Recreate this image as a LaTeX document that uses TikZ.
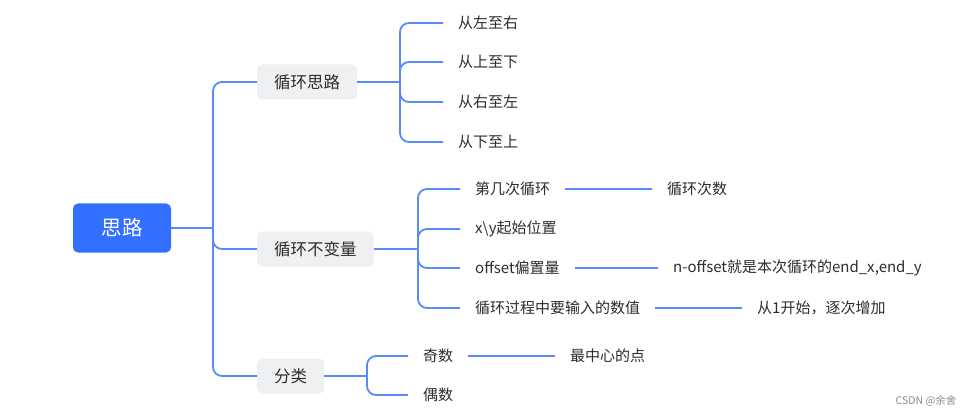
\documentclass[tikz,border=0pt]{standalone}
\usepackage{fontspec}
\setmainfont{Noto Sans CJK SC}
\usetikzlibrary{positioning}
\definecolor{linkblue}{RGB}{88,138,250}
\definecolor{rootblue}{RGB}{51,112,255}
\definecolor{boxgray}{RGB}{239,240,242}
\definecolor{textgray}{RGB}{45,45,45}
\tikzset{
  link/.style={draw=linkblue, line width=1.8pt, rounded corners=9pt},
  rootbox/.style={fill=rootblue, rounded corners=5pt, text=white, font=\fontsize{20.5}{24}\selectfont, minimum width=98pt, minimum height=49pt},
  branch/.style={fill=boxgray, rounded corners=5pt, text=textgray, font=\fontsize{16.5}{20}\selectfont, minimum height=35pt, inner xsep=17pt, anchor=west},
  leaf/.style={text=textgray, font=\fontsize{15}{18}\selectfont, inner xsep=15pt, inner ysep=2pt, anchor=west},
}

\begin{document}
\begin{tikzpicture}[x=1pt, y=-1pt]
        \fill [white] (0, 0) rectangle (978, 417);
        \useasboundingbox (0, 0) rectangle (978, 417);

        % root and first level
        \node [rootbox] (root) at (122, 228) {思路};
        \node [branch] (b1) at (257, 82) {循环思路};
        \node [branch] (b2) at (257, 249) {循环不变量};
        \node [branch] (b3) at (257, 376) {分类};

        % directions
        \node [leaf] (d1) at (443, 23) {从左至右};
        \node [leaf] (d2) at (443, 62) {从上至下};
        \node [leaf] (d3) at (443, 102) {从右至左};
        \node [leaf] (d4) at (443, 142) {从下至上};

        % invariants
        \node [leaf] (v1) at (460, 189) {第几次循环};
        \node [leaf] (v2) at (460, 229) {x\textbackslash y起始位置};
        \node [leaf] (v3) at (460, 268) {offset偏置量};
        \node [leaf] (v4) at (460, 308) {循环过程中要输入的数值};
        \node [leaf] (w1) at (652, 189) {循环次数};
        \node [leaf] (w3) at (658, 268) {n-offset就是本次循环的end\_x,end\_y};
        \node [leaf] (w4) at (742, 308) {从1开始，逐次增加};

        % kinds
        \node [leaf] (k1) at (408, 356) {奇数};
        \node [leaf] (k2) at (408, 395) {偶数};
        \node [leaf] (m1) at (555, 356) {最中心的点};

        \node [text=black!45, font=\fontsize{10.5}{12}\selectfont, anchor=east] (mark) at (960, 401) {CSDN @余舍};

        \coordinate (j0) at (213, 228);
        \coordinate (j1) at (400, 82);
        \coordinate (j2) at (418, 249);
        \coordinate (j3) at (367, 376);

        \draw [link] (root.east) -- (j0);
        \foreach \b in {b1, b2, b3}
            \draw [link] (j0) |- (\b.west);

        \draw [link] (b1.east) -- (j1);
        \foreach \d in {d1, d2, d3, d4}
            \draw [link] (j1) |- (\d.west);

        \draw [link] (b2.east) -- (j2);
        \foreach \v in {v1, v2, v3, v4}
            \draw [link] (j2) |- (\v.west);
        \draw [link] (v1.east) -- (w1.west);
        \draw [link] (v3.east) -- (w3.west);
        \draw [link] (v4.east) -- (w4.west);

        \draw [link] (b3.east) -- (j3);
        \foreach \k in {k1, k2}
            \draw [link] (j3) |- (\k.west);
        \draw [link] (k1.east) -- (m1.west);
\end{tikzpicture}
\end{document}
